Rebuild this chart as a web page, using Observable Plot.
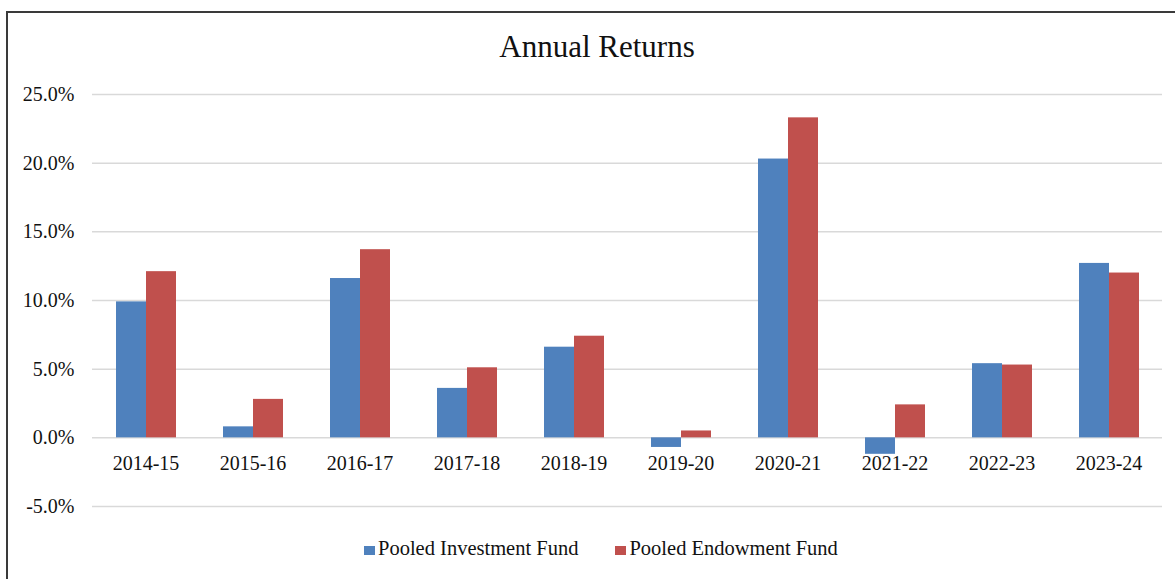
<!DOCTYPE html>
<html>
<head>
<meta charset="utf-8">
<script src="https://cdn.jsdelivr.net/npm/d3@7"></script>
<script src="https://cdn.jsdelivr.net/npm/@observablehq/plot@0.6"></script>
<style>
html, body { margin: 0; padding: 0; background: #fff; overflow: hidden; width: 1175px; height: 579px; }
#wrap { position: relative; width: 1175px; height: 579px; font-family: "Liberation Serif", "Times New Roman", serif; color: #111; }
#frame { position: absolute; left: 6px; top: 11px; width: 1200px; height: 600px; border-left: 2px solid #3a3a3a; border-top: 2px solid #3a3a3a; }
#title { position: absolute; left: 0; width: 1194px; top: 31px; text-align: center; font-size: 31px; line-height: 31px; }
#chart { position: absolute; left: 0; top: 0; }
#legend { position: absolute; left: 364px; top: 538px; display: flex; align-items: center; font-size: 20.5px; line-height: 20px; white-space: nowrap; }
#legend .item { display: flex; align-items: center; margin-right: 37px; }
#legend .sw { display: inline-block; width: 11px; height: 9px; margin-right: 3px; position: relative; top: 2px; }
</style>
</head>
<body>
<div id="wrap">
  <div id="frame"></div>
  <div id="chart"></div>
  <div id="title">Annual Returns</div>
  <div id="legend"></div>
</div>
<script>
const categories = ["2014-15","2015-16","2016-17","2017-18","2018-19","2019-20","2020-21","2021-22","2022-23","2023-24"];
const seriesNames = ["Pooled Investment Fund","Pooled Endowment Fund"];
const investment = [9.9, 0.8, 11.6, 3.6, 6.6, -0.7, 20.3, -1.2, 5.4, 12.7];
const endowment  = [12.1, 2.8, 13.7, 5.1, 7.4, 0.5, 23.3, 2.4, 5.3, 12.0];
const colors = ["#4F81BD","#C0504D"];
const yTicks = [-5, 0, 5, 10, 15, 20, 25];

const table = [];
categories.forEach((c, i) => {
  table.push({category: c, series: seriesNames[0], value: investment[i]});
  table.push({category: c, series: seriesNames[1], value: endowment[i]});
});

const chart = Plot.plot({
  width: 1175,
  height: 579,
  marginTop: 94,
  marginBottom: 73,
  marginLeft: 91,
  marginRight: 12,
  style: {fontFamily: '"Liberation Serif", "Times New Roman", serif', fontSize: "20px", color: "#111", background: "transparent", overflow: "visible"},
  fx: {domain: categories, padding: 0, axis: null},
  x: {domain: seriesNames, paddingInner: 0, paddingOuter: 0.73, axis: null},
  y: {domain: [-5, 25], ticks: yTicks, tickFormat: d => d.toFixed(1) + "%", tickSize: 0, tickPadding: 18, label: null},
  color: {domain: seriesNames, range: colors},
  marks: [
    Plot.ruleY(yTicks, {stroke: "#d9d9d9", strokeWidth: 1.5}),
    Plot.barY(table, {fx: "category", x: "series", y: "value", fill: "series"}),
    Plot.text(categories, {fx: d => d, y: 0, text: d => d, dy: 26, fontSize: 20, fill: "#111"})
  ]
});
document.getElementById("chart").appendChild(chart);

const legend = document.getElementById("legend");
seriesNames.forEach((name, i) => {
  const item = document.createElement("div");
  item.className = "item";
  const sw = document.createElement("span");
  sw.className = "sw";
  sw.style.background = colors[i];
  item.appendChild(sw);
  item.appendChild(document.createTextNode(name));
  legend.appendChild(item);
});
</script>
</body>
</html>
